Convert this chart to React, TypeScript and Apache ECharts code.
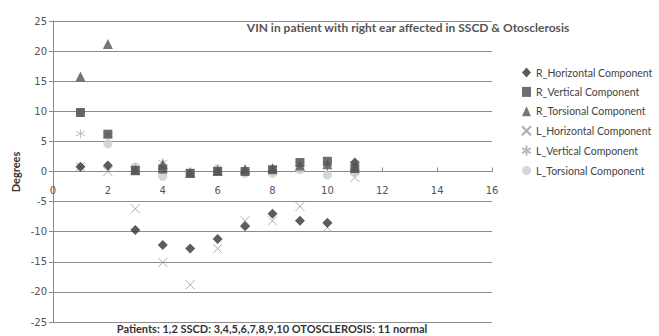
import React, { useEffect, useRef } from "react";
import * as echarts from "echarts";

const patients = [1, 2, 3, 4, 5, 6, 7, 8, 9, 10, 11];
const rHorizontal = [0.8, 1.0, -9.7, -12.2, -12.8, -11.2, -9.1, -7.0, -8.2, -8.5, 1.5];
const rVertical = [9.8, 6.2, 0.2, 0.4, -0.3, 0.0, 0.0, 0.3, 1.5, 1.7, 0.5];
const rTorsional = [15.8, 21.2, 0.2, 1.2, -0.2, 0.2, 0.4, 0.6, 1.0, 1.2, 0.8];
const lHorizontal = [0.8, 0.0, -6.2, -15.1, -18.8, -12.8, -8.2, -8.2, -5.8, -9.3, -1.0];
const lVertical = [6.3, 6.0, 0.5, 1.5, 0.0, 0.3, 0.0, 0.5, 1.2, 1.2, 0.0];
const lTorsional = [9.8, 4.6, 0.8, -0.8, -0.3, 0.5, -0.3, -0.3, 0.3, -0.6, -0.2];

const title = "VIN in patient with right ear affected in SSCD & Otosclerosis";
const xName = "Patients: 1,2 SSCD: 3,4,5,6,7,8,9,10 OTOSCLEROSIS: 11 normal";
const yName = "Degrees";

const pair = (vals: number[]) => patients.map((p, i) => [p, vals[i]]);

const X_PATH = "path://M0,0L10,10M10,0L0,10";
const AST_PATH = "path://M5,0L5,10M0.7,2.5L9.3,7.5M0.7,7.5L9.3,2.5";

const GRID_TOP = 21;
const GRID_BOTTOM = 14;
const GRID_H = 336 - GRID_TOP - GRID_BOTTOM;

export default function App() {
  const ref = useRef<HTMLDivElement>(null);
  useEffect(() => {
    if (!ref.current) return;
    const chart = echarts.init(ref.current, undefined, { renderer: "svg" });
    const filled = (name: string, vals: number[], symbol: string, size: number, color: string) => ({
      name,
      type: "scatter",
      data: pair(vals),
      symbol,
      symbolSize: size,
      itemStyle: { color },
    });
    const stroked = (name: string, vals: number[], symbol: string, size: number, color: string) => ({
      name,
      type: "scatter",
      data: pair(vals),
      symbol,
      symbolSize: size,
      itemStyle: { color: "rgba(0,0,0,0)", borderColor: color, borderWidth: 1 },
    });
    chart.setOption({
      animation: false,
      backgroundColor: "#fff",
      grid: { left: 53, right: 167, top: GRID_TOP, bottom: GRID_BOTTOM },
      xAxis: {
        type: "value",
        min: 0,
        max: 16,
        interval: 2,
        position: "bottom",
        offset: -GRID_H / 2,
        axisLine: { onZero: false, lineStyle: { color: "#888" } },
        axisTick: { inside: true, length: 4, lineStyle: { color: "#888" } },
        axisLabel: { color: "#555", fontSize: 10, fontFamily: "DejaVu Sans", margin: 14 },
        splitLine: { show: false },
      },
      yAxis: {
        type: "value",
        min: -25,
        max: 25,
        interval: 5,
        axisLine: { show: true, onZero: false, lineStyle: { color: "#888" } },
        axisTick: { show: true, length: 4, lineStyle: { color: "#888" } },
        axisLabel: { color: "#555", fontSize: 10, fontFamily: "DejaVu Sans", margin: 6 },
        splitLine: { show: true, lineStyle: { color: "#8c8c8c", width: 1 } },
      },
      legend: {
        orient: "vertical",
        left: 516,
        top: 62,
        itemGap: 8.4,
        itemWidth: 9,
        itemHeight: 10,
        textStyle: { color: "#444", fontSize: 10.5, fontFamily: "Lato" },
        data: [
          "R_Horizontal Component",
          "R_Vertical Component",
          "R_Torsional Component",
          "L_Horizontal Component",
          "L_Vertical Component",
          "L_Torsional Component",
        ],
      },
      series: [
        stroked("L_Horizontal Component", lHorizontal, X_PATH, 9, "#999"),
        filled("L_Torsional Component", lTorsional, "circle", 9, "#cccccc"),
        stroked("L_Vertical Component", lVertical, AST_PATH, 9, "#aaa"),
        filled("R_Horizontal Component", rHorizontal, "diamond", 10, "#333333"),
        filled("R_Vertical Component", rVertical, "rect", 9, "#4a4a4a"),
        filled("R_Torsional Component", rTorsional, "triangle", 10, "#555555"),
      ],
      graphic: [
        {
          type: "text",
          x: 408,
          y: 27,
          style: {
            text: title,
            fontSize: 12,
            fontWeight: "bold",
            fill: "#555",
            fontFamily: "Lato",
            align: "center",
            verticalAlign: "middle",
          },
        },
        {
          type: "text",
          x: 272,
          y: 328,
          style: {
            text: xName,
            fontSize: 11,
            fontWeight: "bold",
            fill: "#333",
            fontFamily: "Lato",
            align: "center",
            verticalAlign: "middle",
          },
        },
        {
          type: "text",
          x: 15,
          y: 172,
          rotation: Math.PI / 2,
          style: {
            text: yName,
            fontSize: 11,
            fontWeight: "bold",
            fill: "#333",
            fontFamily: "Lato",
            align: "center",
            verticalAlign: "middle",
          },
        },
      ],
    });
    return () => chart.dispose();
  }, []);
  return <div ref={ref} style={{ width: 659, height: 336, position: "absolute", left: 0, top: 0 }} />;
}
